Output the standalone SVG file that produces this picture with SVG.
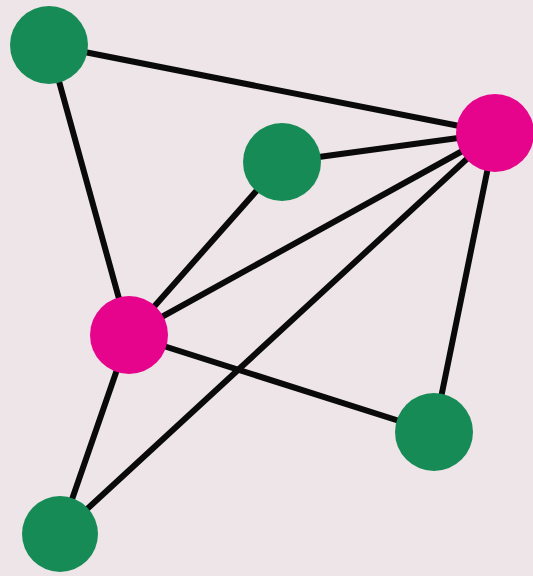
<svg xmlns="http://www.w3.org/2000/svg" width="533" height="576" viewBox="0 0 533 576">
<style>
.e{stroke:#0a0a0a;stroke-width:6;stroke-linecap:round}
.g{fill:#178b56}
.m{fill:#e6048c}
</style>
<rect width="533" height="576" fill="#ede5e7"/>
<g id="edges">
<line class="e" x1="49" y1="45" x2="495" y2="133"/>
<line class="e" x1="49" y1="45" x2="129" y2="335"/>
<line class="e" x1="282" y1="162" x2="495" y2="133"/>
<line class="e" x1="282" y1="162" x2="129" y2="335"/>
<line class="e" x1="129" y1="335" x2="495" y2="133"/>
<line class="e" x1="60" y1="534" x2="495" y2="133"/>
<line class="e" x1="434" y1="432" x2="495" y2="133"/>
<line class="e" x1="129" y1="335" x2="434" y2="432"/>
<line class="e" x1="129" y1="335" x2="60" y2="534"/>
</g>
<g id="n1"><circle class="g" cx="49" cy="45" r="39"/></g>
<g id="n2"><circle class="m" cx="495" cy="133" r="39"/></g>
<g id="n3"><circle class="g" cx="282" cy="162" r="39"/></g>
<g id="n4"><circle class="m" cx="129" cy="335" r="39"/></g>
<g id="n5"><circle class="g" cx="434" cy="432" r="39"/></g>
<g id="n6"><circle class="g" cx="60" cy="534" r="38"/></g>
</svg>
